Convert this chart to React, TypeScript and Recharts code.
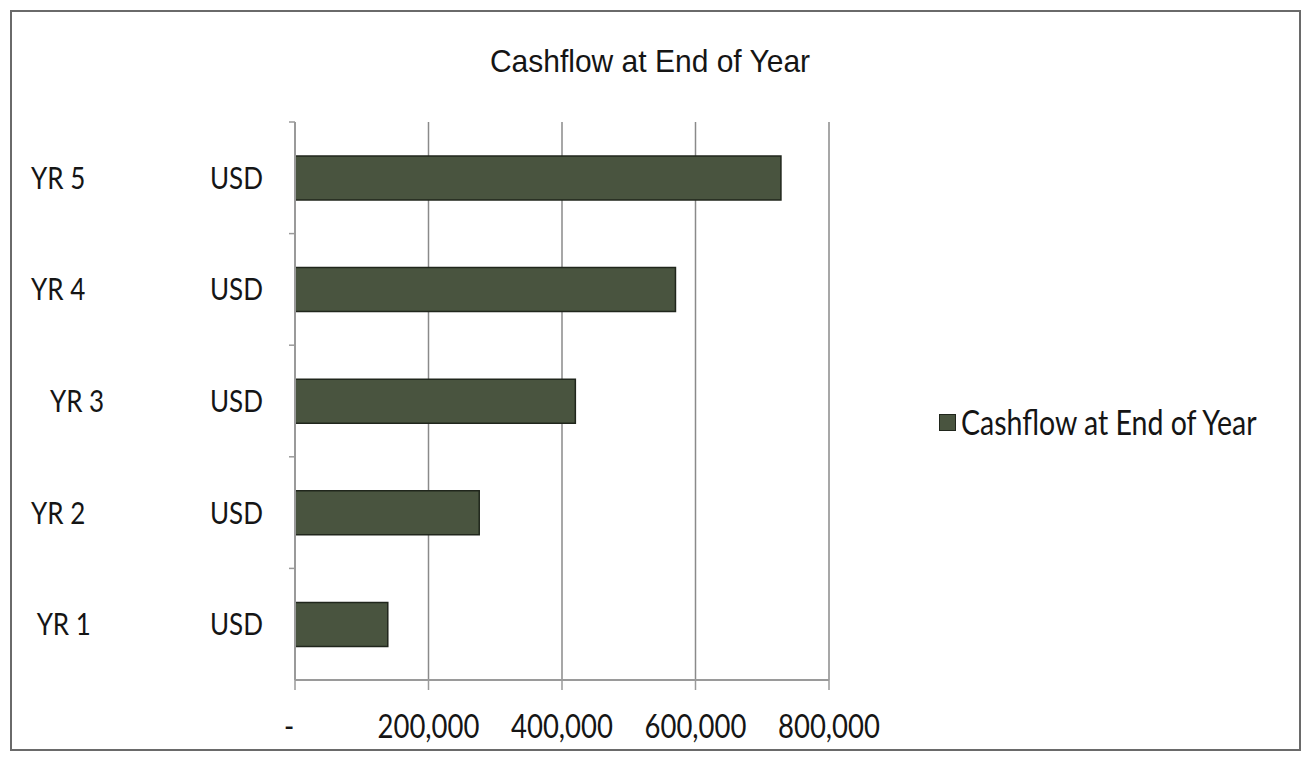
import React from 'react'
import { BarChart, Bar, XAxis, YAxis, CartesianGrid, Legend } from 'recharts'

const years = ['YR 1', 'YR 2', 'YR 3', 'YR 4', 'YR 5']
// the source sheet has some labels indented with spaces
const yearLabels = [' YR 1', 'YR 2', '   YR 3', 'YR 4', 'YR 5']
const units = ['USD', 'USD', 'USD', 'USD', 'USD']
const cashflow = [139000, 276000, 420000, 570000, 728000]
const xTicks = [0, 200000, 400000, 600000, 800000]
const chartTitle = 'Cashflow at End of Year'
const seriesName = 'Cashflow at End of Year'

const data = years.map((year, i) => ({
  year,
  label: yearLabels[i],
  unit: units[i],
  cashflow: cashflow[i],
}))

const C = {
  bar: '#49543f',
  barEdge: '#20261c',
  grid: '#8a8a8a',
  axis: '#9a9a9a',
  text: '#151515',
  frame: '#6a6a6a',
}
const labelFont = 'Lato, "Open Sans", sans-serif'
const stretch = 1.2 // scanned original is a bit taller than wide

const tall = (y: number) => `translate(0 ${y}) scale(1 ${stretch}) translate(0 ${-y})`

function YearTick(props: any) {
  const { x, y, payload } = props
  const row = data.find((d) => d.year === payload.value)
  const off = payload.offset || 0
  return (
    <g>
      {off > 0 && <line x1={x - 6} x2={x} y1={y - off} y2={y - off} stroke={C.axis} strokeWidth={1.5} />}
      <g transform={tall(y)}>
        <text x={x - 264} y={y} dy="0.35em" fontSize={26} fontFamily={labelFont} fill={C.text} style={{ whiteSpace: 'pre' }}>
          {row ? row.label : payload.value}
        </text>
        <text x={x - 85} y={y} dy="0.35em" fontSize={26} fontFamily={labelFont} fill={C.text}>
          {row ? row.unit : ''}
        </text>
      </g>
    </g>
  )
}

function ValueTick(props: any) {
  const { x, y, payload } = props
  const v = payload.value as number
  const txt = v === 0 ? '-' : v.toLocaleString('en-US')
  return (
    <g transform={tall(y)}>
      <text x={v === 0 ? x - 6 : x} y={y} dy="0.71em" textAnchor="middle" fontSize={27.5} fontFamily={labelFont} fill={C.text}>
        {txt}
      </text>
    </g>
  )
}

function LegendBox(props: any) {
  const items = props.payload || []
  return (
    <div>
      {items.map((it: any) => (
        <div key={it.value} style={{ display: 'flex', alignItems: 'center', fontFamily: labelFont, fontSize: 28.5, color: C.text, whiteSpace: 'nowrap' }}>
          <span style={{ width: 15, height: 15, background: C.bar, border: `1px solid ${C.barEdge}`, marginRight: 5, display: 'inline-block' }} />
          <span style={{ display: 'inline-block', transform: `scaleY(${stretch})` }}>{it.value}</span>
        </div>
      ))}
    </div>
  )
}

export default function App() {
  return (
    <div style={{ position: 'absolute', left: 0, top: 0, width: 1307, height: 760, background: '#fff' }}>
      <div style={{ position: 'absolute', left: 10, top: 10, width: 1291, height: 741, border: `2px solid ${C.frame}`, boxSizing: 'border-box' }} />
      <div style={{ position: 'absolute', left: 0, top: 47, width: 1300, textAlign: 'center', fontFamily: '"Liberation Sans", Arial, sans-serif', fontSize: 30, lineHeight: 1, color: C.text, transform: 'scaleY(1.05)' }}>
        {chartTitle}
      </div>
      <BarChart
        width={1307}
        height={760}
        data={data}
        layout="vertical"
        margin={{ top: 122, right: 478, bottom: 10, left: 25 }}
        barSize={44}
      >
        <CartesianGrid horizontal={false} stroke={C.grid} strokeWidth={1.5} />
        <XAxis
          type="number"
          domain={[0, 800000]}
          ticks={xTicks}
          height={70}
          tickSize={10}
          tickMargin={25}
          axisLine={{ stroke: C.axis, strokeWidth: 2 }}
          tickLine={{ stroke: C.axis, strokeWidth: 1.5 }}
          tick={<ValueTick />}
        />
        <YAxis
          type="category"
          dataKey="year"
          reversed
          width={270}
          tickSize={0}
          tickMargin={0}
          tickLine={false}
          axisLine={{ stroke: C.axis, strokeWidth: 2 }}
          tick={<YearTick />}
        />
        <Legend
          layout="vertical"
          align="center"
          verticalAlign="middle"
          wrapperStyle={{ left: 939, top: 405, width: 'auto' }}
          content={<LegendBox />}
        />
        <Bar dataKey="cashflow" name={seriesName} fill={C.bar} stroke={C.barEdge} strokeWidth={1.5} isAnimationActive={false} />
      </BarChart>
    </div>
  )
}
